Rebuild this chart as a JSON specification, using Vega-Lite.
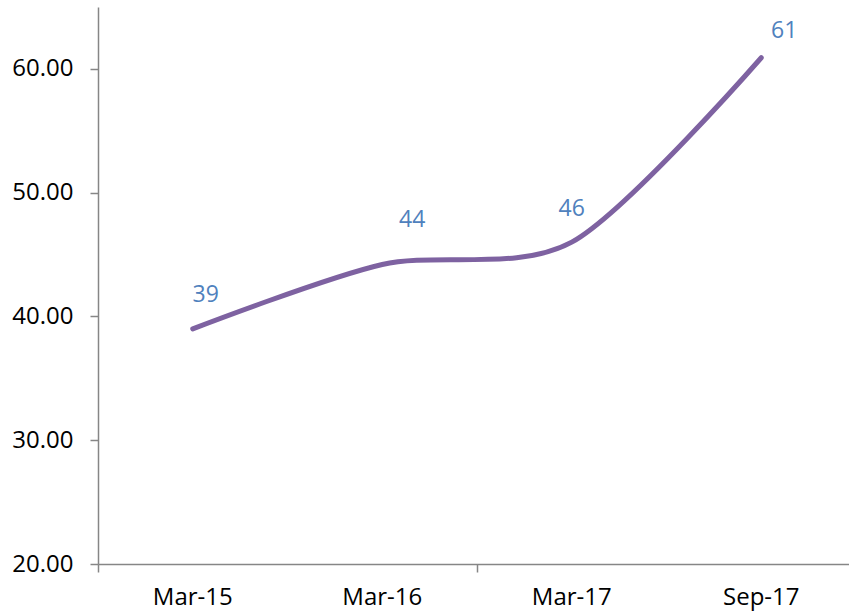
{
  "$schema": "https://vega.github.io/schema/vega-lite/v6.json",
  "autosize": {"type": "none"},
  "width": 758,
  "height": 557,
  "padding": {"left": 98, "top": 7, "right": 0, "bottom": 48},
  "background": "white",
  "config": {
    "view": {"stroke": null},
    "font": "Open Sans",
    "axis": {"grid": false, "domainColor": "#868686", "tickColor": "#868686", "domainWidth": 1.5, "tickWidth": 1.5, "labelColor": "#000000", "labelFont": "Open Sans", "labelFontSize": 24, "title": null}
  },
  "data": {"values": [
    {"period": "Mar-15", "value": 39.0},
    {"period": "Mar-16", "value": 44.2},
    {"period": "Mar-17", "value": 46.0},
    {"period": "Sep-17", "value": 60.9}
  ]},
  "resolve": {"axis": {"x": "independent"}},
  "encoding": {
    "y": {"field": "value", "type": "quantitative",
      "scale": {"domain": [20, 65], "nice": false, "zero": false},
      "axis": {"values": [20, 30, 40, 50, 60], "format": ".2f", "tickSize": 8, "labelPadding": 17}}
  },
  "layer": [
    {"mark": {"type": "line", "interpolate": "cardinal", "tension": 0.15, "color": "#7E62A1", "strokeWidth": 5, "strokeCap": "round", "clip": false},
     "encoding": {"x": {"field": "period", "type": "ordinal", "sort": null, "bandPosition": 0.5,
      "scale": {"type": "band", "paddingInner": 0, "paddingOuter": 0},
      "axis": {"orient": "bottom", "labelAngle": 0, "ticks": false, "labelPadding": 21}}}},
    {"transform": [{"filter": "datum.period === 'Mar-15'"}],
     "mark": {"type": "text", "color": "#4F81BD", "fontSize": 23, "font": "Open Sans", "dx": 13, "dy": -34},
     "encoding": {"x": {"field": "period", "type": "ordinal", "sort": null, "bandPosition": 0.5,
       "axis": {"orient": "bottom", "values": ["Mar-15", "Mar-17"], "labels": false, "domain": false, "bandPosition": 0, "tickExtra": false, "tickSize": 8}},
       "text": {"field": "value", "type": "quantitative", "format": ".0f"}}},
    {"transform": [{"filter": "datum.period === 'Mar-16'"}],
     "mark": {"type": "text", "color": "#4F81BD", "fontSize": 23, "font": "Open Sans", "dx": 30, "dy": -44},
     "encoding": {"x": {"field": "period", "type": "ordinal", "sort": null, "bandPosition": 0.5, "axis": null},
       "text": {"field": "value", "type": "quantitative", "format": ".0f"}}},
    {"transform": [{"filter": "datum.period === 'Mar-17'"}],
     "mark": {"type": "text", "color": "#4F81BD", "fontSize": 23, "font": "Open Sans", "dx": 0, "dy": -33},
     "encoding": {"x": {"field": "period", "type": "ordinal", "sort": null, "bandPosition": 0.5, "axis": null},
       "text": {"field": "value", "type": "quantitative", "format": ".0f"}}},
    {"transform": [{"filter": "datum.period === 'Sep-17'"}],
     "mark": {"type": "text", "color": "#4F81BD", "fontSize": 23, "font": "Open Sans", "dx": 23, "dy": -27},
     "encoding": {"x": {"field": "period", "type": "ordinal", "sort": null, "bandPosition": 0.5, "axis": null},
       "text": {"field": "value", "type": "quantitative", "format": ".0f"}}}
  ]
}
